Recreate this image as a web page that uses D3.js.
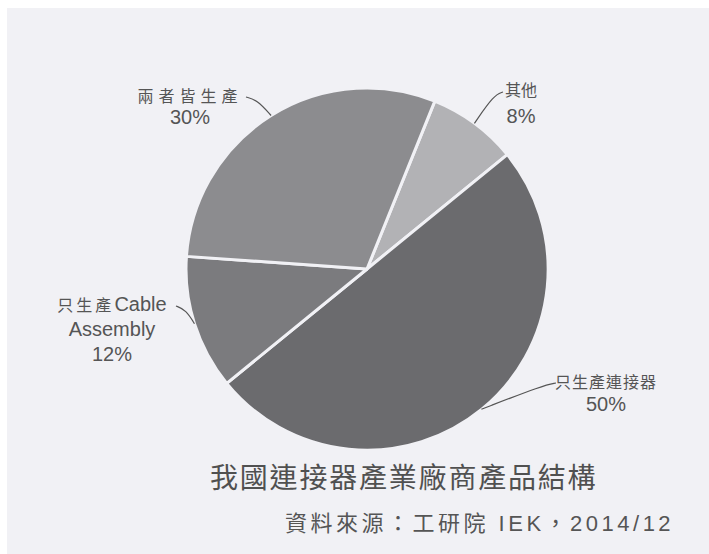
<!DOCTYPE html>
<html>
<head>
<meta charset="utf-8">
<script src="https://cdn.jsdelivr.net/npm/d3@7"></script>
<style>
  html, body { margin: 0; padding: 0; background: #ffffff; }
  svg { display: block; }
</style>
</head>
<body>
<svg id="chart" width="709" height="554"></svg>
<script>
// pie slices, clockwise starting just right of 12 o'clock
const categories = ['其他', '只生產連接器', '只生產Cable Assembly', '兩者皆生產'];
const shares = [8, 50, 12, 30];
const sliceColors = ['#b2b2b5', '#6b6b6e', '#7b7b7e', '#8c8c8f'];

// label text split into lines (last line is the share)
const labelLines = [['其他'], ['只生產連接器'], ['只生產', 'Cable', 'Assembly'], ['兩者皆生產']];

const titleText = '我國連接器產業廠商產品結構';
const sourceText = '資料來源：工研院 IEK，2014/12';

const svg = d3.select('#chart');
const W = 709, H = 554;
const cx = 367, cy = 269, R = 181;
const startDeg = 22;

// scanned paper background
svg.append('rect').attr('x', 7).attr('y', 8).attr('width', W - 7).attr('height', H - 8).attr('fill', '#f1f1f5');

const pie = d3.pie().sort(null).value(d => d)
    .startAngle(startDeg * Math.PI / 180)
    .endAngle(startDeg * Math.PI / 180 + 2 * Math.PI);
const arcs = pie(shares);
const arc = d3.arc().innerRadius(0).outerRadius(R);
const edgeArc = d3.arc().innerRadius(R).outerRadius(R);

const g = svg.append('g').attr('transform', `translate(${cx},${cy})`);
g.selectAll('path.slice').data(arcs).enter().append('path')
    .attr('class', 'slice')
    .attr('d', arc)
    .attr('fill', (d, i) => sliceColors[i])
    .attr('stroke', '#f1f1f5')
    .attr('stroke-width', 3)
    .attr('stroke-linejoin', 'round');

// label layout: anchor x, first baseline, line gap, leader start + elbow
const labelLayout = [
    { x: 521, y: 96, gap: 27, ls: 0, lead: [503, 92], elbow: [494, 95] },
    { x: 606, y: 388, gap: 23, ls: 1, lead: [556, 383], elbow: [544, 385] },
    { x: 112, y: 311, gap: 25, ls: 3, lead: [176, 306], elbow: [186, 310] },
    { x: 190, y: 102, gap: 22, ls: 5, lead: [246, 97], elbow: [257, 100] }
];

const cjkFont = '"Noto Sans CJK TC", "Noto Sans CJK SC", sans-serif';
const latinFont = '"Liberation Sans", Arial, "Noto Sans CJK TC", sans-serif';

const leader = d3.line().curve(d3.curveBasis);

arcs.forEach((a, i) => {
    const L = labelLayout[i];
    const c = edgeArc.centroid(a);
    const end = [cx + c[0], cy + c[1]];
    svg.append('path')
        .attr('d', leader([L.lead, L.elbow, end]))
        .attr('fill', 'none')
        .attr('stroke', '#555')
        .attr('stroke-width', 1.2);

    const lines = labelLines[i];
    const t = svg.append('text').attr('text-anchor', 'middle').attr('fill', '#555');
    let row = 0;
    if (lines.length === 3) {
        // mixed CJK + Latin first line, then second Latin line
        const first = t.append('tspan').attr('x', L.x).attr('y', L.y);
        first.append('tspan').text(lines[0]).style('font-family', cjkFont).style('font-size', '16px').style('letter-spacing', L.ls + 'px');
        first.append('tspan').text(lines[1]).style('font-family', latinFont).style('font-size', '20px');
        row = 1;
        t.append('tspan').attr('x', L.x).attr('y', L.y + L.gap * row).text(lines[2])
            .style('font-family', latinFont).style('font-size', '20px');
    } else {
        t.append('tspan').attr('x', L.x).attr('y', L.y).text(lines[0])
            .style('font-family', cjkFont).style('font-size', '16px').style('letter-spacing', L.ls + 'px');
    }
    row += 1;
    t.append('tspan').attr('x', L.x).attr('y', L.y + L.gap * row).text(shares[i] + '%')
        .style('font-family', latinFont).style('font-size', '20px');
});

svg.append('text')
    .attr('x', 210).attr('y', 488)
    .attr('fill', '#505050')
    .style('font-family', cjkFont)
    .style('font-size', '28px')
    .style('letter-spacing', '1.8px')
    .text(titleText);

svg.append('text')
    .attr('x', 285).attr('y', 531)
    .attr('fill', '#555')
    .style('font-family', latinFont)
    .style('font-size', '22px')
    .style('letter-spacing', '3.5px')
    .text(sourceText);
</script>
</body>
</html>
